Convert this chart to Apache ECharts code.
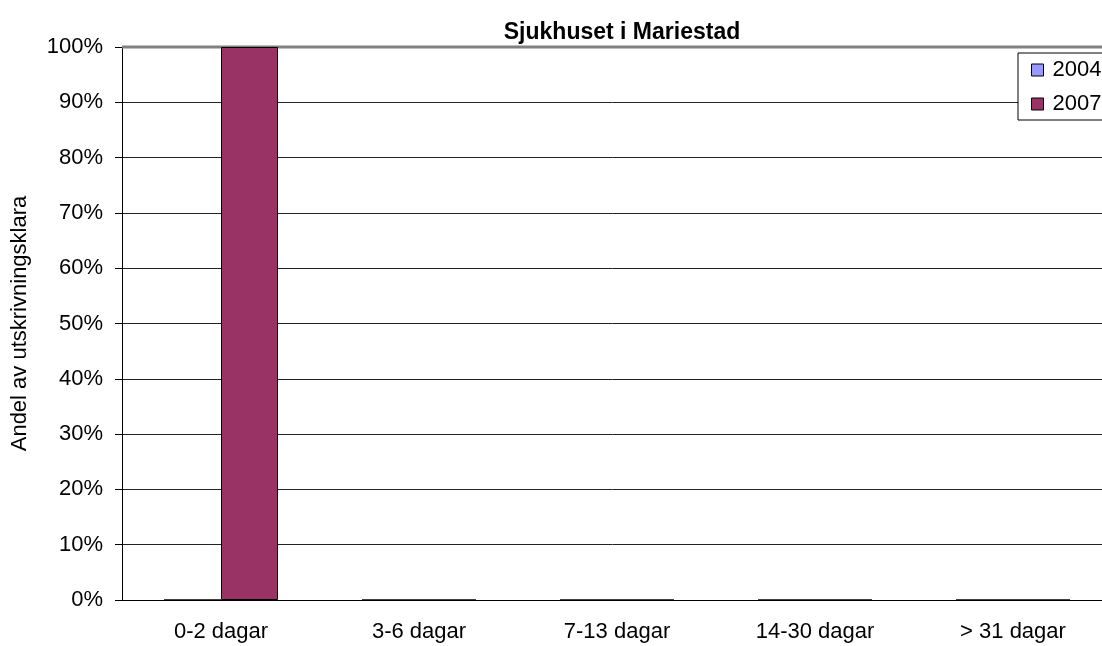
<!DOCTYPE html>
<html>
<head>
    <meta charset="UTF-8">
    <style type="text/css">
        body { margin: 0; padding: 0; overflow: hidden; background: #fff }
        #chart { width: 1102px; height: 646px; position: absolute }
    </style>
</head>
<body>
    <div id="chart"></div>
    <script src="https://cdn.jsdelivr.net/npm/echarts@6/dist/echarts.min.js"></script>
    <script>
        let categories = ['0-2 dagar', '3-6 dagar', '7-13 dagar', '14-30 dagar', '> 31 dagar'];
        let years = ['2004', '2007'];
        let values2004 = [0, 0, 0, 0, 0];
        let values2007 = [100, 0, 0, 0, 0];
        let yTicks = [0, 100, 10];

        let FONT = '"Liberation Sans", Arial, sans-serif';
        var myChart = echarts.init(document.getElementById('chart'));

        let option = {
            animation: false,
            textStyle: { fontFamily: FONT },
            title: {
                text: 'Sjukhuset i Mariestad',
                left: 617,
                top: 16,
                textAlign: 'center',
                textStyle: { fontFamily: FONT, fontSize: 23, fontWeight: 'bold', color: '#000' }
            },
            legend: {
                orient: 'vertical',
                left: 1018,
                top: 53,
                padding: [6, 30, 5, 13],
                itemGap: 12,
                itemWidth: 12,
                itemHeight: 12,
                backgroundColor: '#fff',
                borderColor: '#000',
                borderWidth: 1,
                textStyle: { fontFamily: FONT, fontSize: 22, color: '#000', padding: [0, 0, 0, 4] },
                data: years.map(y => ({ name: y, icon: 'rect', itemStyle: { borderColor: '#000', borderWidth: 1 } }))
            },
            grid: { left: 122, top: 47, width: 990, height: 553, outerBoundsMode: 'none' },
            xAxis: {
                type: 'category',
                data: categories,
                axisLine: { lineStyle: { color: '#000', width: 1 } },
                axisTick: { length: 6, lineStyle: { color: '#000' } },
                axisLabel: { color: '#000', fontSize: 22, margin: 21, fontFamily: FONT }
            },
            yAxis: {
                type: 'value',
                min: yTicks[0],
                max: yTicks[1],
                interval: yTicks[2],
                name: 'Andel av utskrivningsklara',
                nameLocation: 'middle',
                nameGap: 91,
                nameTextStyle: { color: '#000', fontSize: 22, fontFamily: FONT },
                axisLine: { show: true, lineStyle: { color: '#000' } },
                axisTick: { show: true, length: 7, lineStyle: { color: '#000' } },
                axisLabel: { color: '#000', fontSize: 22, margin: 19, formatter: '{value}%', fontFamily: FONT },
                splitLine: { lineStyle: { color: '#222', width: 1 } }
            },
            series: [
                {
                    name: years[0],
                    type: 'bar',
                    data: values2004,
                    barWidth: 57,
                    barGap: '0%',
                    itemStyle: { color: '#9999FF', borderColor: '#000', borderWidth: 1 }
                },
                {
                    name: years[1],
                    type: 'bar',
                    data: values2007,
                    barWidth: 57,
                    barGap: '0%',
                    itemStyle: { color: '#993366', borderColor: '#000', borderWidth: 1 }
                }
            ],
            graphic: [
                {
                    type: 'line',
                    shape: { x1: 122, y1: 47, x2: 1102, y2: 47 },
                    style: { stroke: '#808080', lineWidth: 3 },
                    z: 1
                }
            ]
        };
        myChart.setOption(option);
    </script>
</body>
</html>
